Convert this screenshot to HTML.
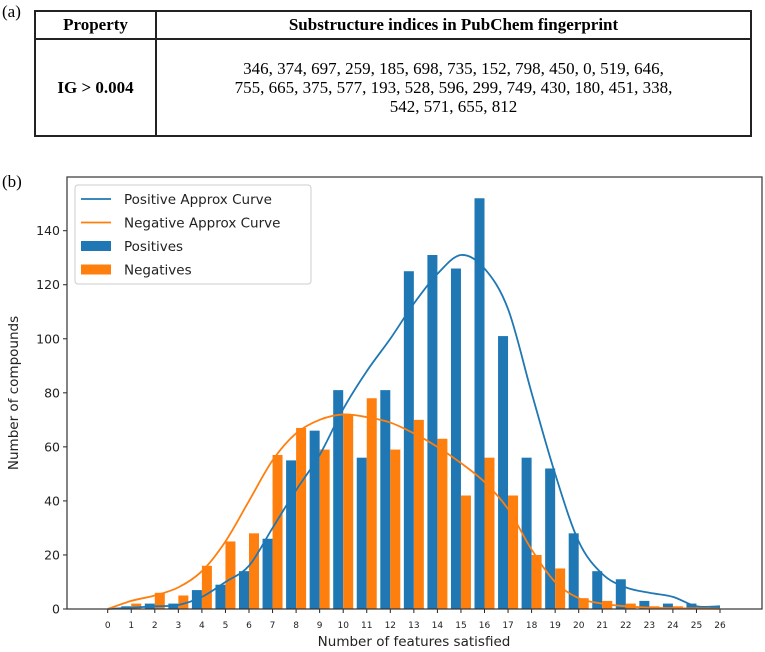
<!DOCTYPE html>
<html><head><meta charset="utf-8"><style>
body{margin:0;background:#fff;width:765px;height:652px;overflow:hidden;position:relative;font-family:"Liberation Sans",sans-serif}
.serif{font-family:"Liberation Serif",serif}
svg text{font-family:"DejaVu Sans","Liberation Sans",sans-serif}
</style></head><body>
<div class="serif" style="position:absolute;left:2px;top:2px;font-size:17px">(a)</div>
<table class="serif" style="position:absolute;left:34px;top:10px;width:718px;height:127px;border-collapse:collapse;font-size:17px;text-align:center">
<tr style="height:28px"><th style="border:2px solid #222;width:117px">Property</th><th style="border:2px solid #222">Substructure indices in PubChem fingerprint</th></tr>
<tr><td style="border:2px solid #222;font-weight:bold">IG &gt; 0.004</td><td style="border:2px solid #222;line-height:19px">346, 374, 697, 259, 185, 698, 735, 152, 798, 450, 0, 519, 646,<br>755, 665, 375, 577, 193, 528, 596, 299, 749, 430, 180, 451, 338,<br>542, 571, 655, 812</td></tr>
</table>
<div class="serif" style="position:absolute;left:2px;top:172px;font-size:17px">(b)</div>
<svg id="chart" width="765" height="652" style="position:absolute;left:0;top:0"></svg>
<script>
const categories=[0,1,2,3,4,5,6,7,8,9,10,11,12,13,14,15,16,17,18,19,20,21,22,23,24,25,26];
const positives=[0,1,2,2,7,9,14,26,55,66,81,56,81,125,131,126,152,101,56,52,28,14,11,3,2,2,1];
const negatives=[0,2,6,5,16,25,28,57,67,59,72,78,59,70,63,42,56,42,20,15,4,3,2,1,1,1,0];
const posCurve=[0,0.5,1,1.5,4.5,10,16,30,44,57,74,88,100,113,124,131,126,111,80,50,25,13,8,6,4.5,1,1];
const negCurve=[0,3,5,8,14,25,40,55,65,70,72,71,69,65,60,54,47,37,22,10,4,2,1,0.5,0.3,0.2,0.1];
const yTicks=[0,20,40,60,80,100,120,140];
const NS='http://www.w3.org/2000/svg';
const svg=document.getElementById('chart');
const L=67,R=762,T=177,B=609;
const x=v=>107.7+v*23.55;
const y=v=>B-v*(B-230.7)/140;
function mk(t,a,p){const e=document.createElementNS(NS,t);for(const k in a)e.setAttribute(k,a[k]);(p||svg).appendChild(e);return e;}
const bw=10;
categories.forEach((c,i)=>{
 const b=mk('rect',{x:x(c)-bw,y:y(positives[i]),width:bw,height:B-y(positives[i]),fill:'#1f77b4'});
 
 
 const o=mk('rect',{x:x(c),y:y(negatives[i]),width:bw,height:B-y(negatives[i]),fill:'#ff7f0e'});
 
 
 const tk=mk('line',{x1:x(c),x2:x(c),y1:B,y2:B+4,stroke:'#222'});
 
 
 const tl=mk('text',{x:x(c),y:B+19,'font-size':9,'text-anchor':'middle',fill:'#222'});
 tl.textContent=c;
 
 
});
function smooth(vals){
 const pts=categories.map((c,i)=>[x(c),y(vals[i])]);
 let d='M'+pts[0][0]+','+pts[0][1];
 for(let i=0;i<pts.length-1;i++){
  const p0=pts[Math.max(0,i-1)],p1=pts[i],p2=pts[i+1],p3=pts[Math.min(pts.length-1,i+2)];
  d+=' C'+(p1[0]+(p2[0]-p0[0])/6)+','+(p1[1]+(p2[1]-p0[1])/6)+' '+(p2[0]-(p3[0]-p1[0])/6)+','+(p2[1]-(p3[1]-p1[1])/6)+' '+p2[0]+','+p2[1];
 }
 return d;
}
const pc=mk('path',{d:smooth(posCurve),fill:'none',stroke:'#1f77b4','stroke-width':1.8});


const nc=mk('path',{d:smooth(negCurve),fill:'none',stroke:'#ff7f0e','stroke-width':1.8});


yTicks.forEach(v=>{
 const t=mk('line',{x1:L-4,x2:L,y1:y(v),y2:y(v),stroke:'#222'});
 
 
 const l=mk('text',{x:L-7,y:y(v)+4.5,'font-size':12.5,'text-anchor':'end',fill:'#222'});
 l.textContent=v;
 
 
});
const fr=mk('rect',{x:L,y:T,width:R-L,height:B-T,fill:'none',stroke:'#333','stroke-width':1.2});


const xt=mk('text',{x:414,y:646,'font-size':13.5,'text-anchor':'middle',fill:'#222'});
xt.textContent='Number of features satisfied';


const yt=mk('text',{x:18,y:393,'font-size':13.5,'text-anchor':'middle',fill:'#222',transform:'rotate(-90 18 393)'});
yt.textContent='Number of compounds';


const lg=mk('g',{});


mk('rect',{x:75,y:185,width:236,height:99,fill:'#fff',stroke:'#ccc',rx:3},lg);
const items=[['Positive Approx Curve','#1f77b4','line'],['Negative Approx Curve','#ff7f0e','line'],['Positives','#1f77b4','box'],['Negatives','#ff7f0e','box']];
items.forEach((it,i)=>{
 const cy=199+i*23.5;
 const e=it[2]==='line'?mk('line',{x1:81,x2:111,y1:cy,y2:cy,stroke:it[1],'stroke-width':1.8},lg):mk('rect',{x:81,y:cy-5,width:30,height:10,fill:it[1]},lg);
 
 
 const t=mk('text',{x:124,y:cy+5,'font-size':13.5,fill:'#222'},lg);
 t.textContent=it[0];
 
 
});
</script>
</body></html>
